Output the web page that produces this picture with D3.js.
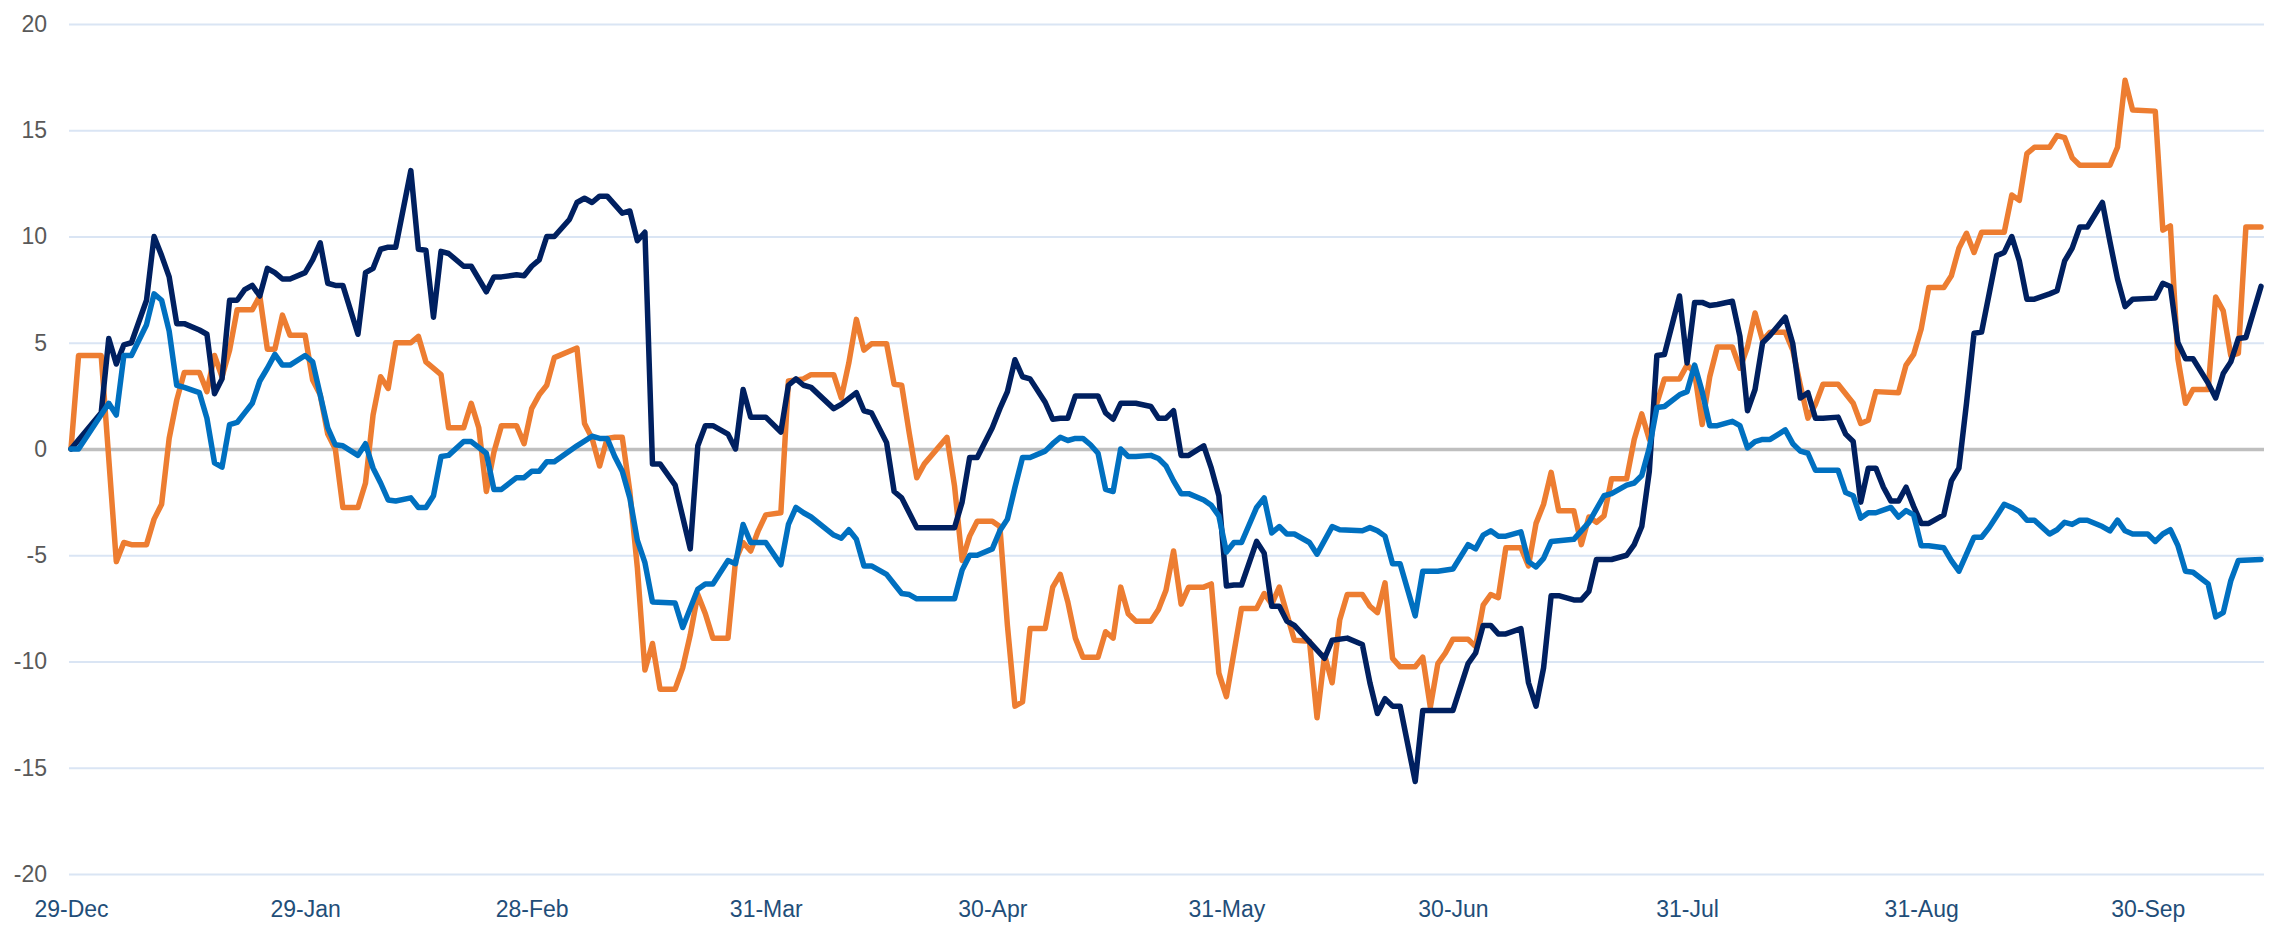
<!DOCTYPE html>
<html>
<head>
<meta charset="utf-8">
<script src="https://cdn.jsdelivr.net/npm/d3@7"></script>
<style>
  body { margin: 0; background: #fff; }
  svg { display: block; }
</style>
</head>
<body>
<script>
// start date of the series (x axis is in calendar days from here)
var startDate = new Date(2022, 11, 29);

// [day since 29-Dec, value]
var navy = [[0,0],[4,1.7],[5,5.2],[6,4.0],[7,4.9],[8,5.0],[10,7.0],[11,10.0],[12,9.1],[13,8.1],[14,5.9],[15,5.9],[17,5.6],[18,5.4],[19,2.6],[20,3.3],[21,7.0],[22,7.0],[23,7.5],[24,7.7],[25,7.2],[26,8.5],[27,8.3],[28,8.0],[29,8.0],[31,8.3],[32,8.9],[33,9.7],[34,7.8],[35,7.7],[36,7.7],[38,5.4],[39,8.3],[40,8.5],[41,9.4],[42,9.5],[43,9.5],[45,13.1],[46,9.4],[47,9.35],[48,6.2],[49,9.3],[50,9.2],[52,8.6],[53,8.6],[55,7.4],[56,8.1],[57,8.1],[59,8.2],[60,8.15],[61,8.6],[62,8.9],[63,10.0],[64,10.0],[66,10.8],[67,11.6],[68,11.8],[69,11.6],[70,11.9],[71,11.9],[73,11.1],[74,11.2],[75,9.8],[76,10.2],[77,-0.7],[78,-0.7],[80,-1.7],[81,-3.2],[82,-4.7],[83,0.15],[84,1.1],[85,1.1],[87,0.7],[88,0.0],[89,2.8],[90,1.5],[92,1.5],[94,0.8],[95,3.0],[96,3.3],[97,3.0],[98,2.9],[101,1.9],[102,2.1],[104,2.65],[105,1.8],[106,1.7],[108,0.3],[109,-2.0],[110,-2.3],[112,-3.7],[113,-3.7],[117,-3.7],[118,-2.5],[119,-0.4],[120,-0.4],[122,1.0],[123,1.9],[124,2.7],[125,4.2],[126,3.4],[127,3.3],[129,2.2],[130,1.4],[131,1.45],[132,1.45],[133,2.5],[134,2.5],[136,2.5],[137,1.7],[138,1.4],[139,2.15],[141,2.15],[143,2.0],[144,1.45],[145,1.45],[146,1.8],[147,-0.3],[148,-0.3],[150,0.15],[151,-0.9],[152,-2.2],[153,-6.45],[154,-6.4],[155,-6.4],[157,-4.35],[158,-4.9],[159,-7.4],[160,-7.4],[161,-8.1],[162,-8.3],[166,-9.85],[167,-9.0],[169,-8.9],[171,-9.2],[172,-11.0],[173,-12.45],[174,-11.75],[175,-12.1],[176,-12.1],[178,-15.65],[179,-12.3],[181,-12.3],[183,-12.3],[185,-10.1],[186,-9.6],[187,-8.3],[188,-8.3],[189,-8.7],[190,-8.7],[192,-8.45],[193,-11.0],[194,-12.1],[195,-10.3],[196,-6.9],[197,-6.9],[199,-7.1],[200,-7.1],[201,-6.7],[202,-5.2],[204,-5.2],[206,-5.0],[207,-4.5],[208,-3.65],[209,-1.05],[210,4.4],[211,4.45],[213,7.2],[214,4.05],[215,6.9],[216,6.9],[217,6.75],[218,6.8],[220,6.95],[221,5.3],[222,1.8],[223,2.8],[224,5.0],[225,5.35],[227,6.2],[228,4.95],[229,2.4],[230,2.65],[231,1.45],[232,1.45],[234,1.5],[235,0.7],[236,0.35],[237,-2.5],[238,-0.9],[239,-0.9],[240,-1.8],[241,-2.45],[242,-2.45],[243,-1.8],[244,-2.7],[245,-3.5],[246,-3.5],[248,-3.1],[249,-1.5],[250,-0.9],[251,2.15],[252,5.45],[253,5.5],[254,7.3],[255,9.1],[256,9.25],[257,10.0],[258,8.85],[259,7.05],[260,7.05],[262,7.3],[263,7.45],[264,8.85],[265,9.45],[266,10.45],[267,10.45],[269,11.6],[270,9.75],[271,8.0],[272,6.7],[273,7.05],[276,7.1],[277,7.8],[278,7.65],[279,5.0],[280,4.25],[281,4.25],[283,3.1],[284,2.4],[285,3.55],[286,4.1],[287,5.2],[288,5.25],[290,7.65]];

var orange = [[0,0],[1,4.4],[4,4.4],[6,-5.3],[7,-4.4],[8,-4.5],[10,-4.5],[11,-3.3],[12,-2.6],[13,0.5],[14,2.3],[15,3.6],[17,3.6],[18,2.7],[19,4.4],[20,3.4],[21,4.65],[22,6.55],[24,6.55],[25,7.2],[26,4.7],[27,4.7],[28,6.3],[29,5.35],[31,5.35],[32,3.25],[33,2.55],[34,0.7],[35,0.0],[36,-2.75],[38,-2.75],[39,-1.6],[40,1.6],[41,3.4],[42,2.85],[43,5.0],[45,5.0],[46,5.3],[47,4.1],[49,3.5],[50,1.0],[52,1.0],[53,2.15],[54,1.0],[55,-2.0],[56,-0.15],[57,1.1],[59,1.1],[60,0.25],[61,1.9],[62,2.55],[63,3.0],[64,4.3],[67,4.75],[68,1.2],[69,0.5],[70,-0.8],[71,0.5],[72,0.55],[73,0.55],[74,-2.0],[75,-5.6],[76,-10.4],[77,-9.15],[78,-11.3],[80,-11.3],[81,-10.3],[82,-8.75],[83,-6.85],[84,-7.75],[85,-8.9],[87,-8.9],[88,-5.25],[89,-4.4],[90,-4.8],[91,-3.85],[92,-3.1],[94,-3.0],[95,3.2],[97,3.3],[98,3.5],[101,3.5],[102,2.4],[103,4.05],[104,6.1],[105,4.65],[106,4.95],[108,4.95],[109,3.05],[110,3.0],[111,0.75],[112,-1.35],[113,-0.7],[116,0.55],[117,-1.75],[118,-5.25],[119,-4.1],[120,-3.4],[122,-3.4],[123,-3.65],[124,-8.3],[125,-12.1],[126,-11.9],[127,-8.45],[129,-8.45],[130,-6.5],[131,-5.9],[132,-7.2],[133,-8.9],[134,-9.8],[136,-9.8],[137,-8.6],[138,-8.9],[139,-6.5],[140,-7.75],[141,-8.1],[143,-8.1],[144,-7.55],[145,-6.65],[146,-4.8],[147,-7.3],[148,-6.5],[150,-6.5],[151,-6.35],[152,-10.55],[153,-11.65],[155,-7.5],[157,-7.5],[158,-6.8],[159,-7.3],[160,-6.5],[162,-9.0],[164,-9.05],[165,-12.65],[166,-9.7],[167,-11.0],[168,-8.05],[169,-6.85],[171,-6.85],[172,-7.4],[173,-7.7],[174,-6.3],[175,-9.85],[176,-10.25],[178,-10.25],[179,-9.8],[180,-12.15],[181,-10.1],[182,-9.6],[183,-8.95],[185,-8.95],[186,-9.3],[187,-7.35],[188,-6.85],[189,-7.0],[190,-4.65],[192,-4.65],[193,-5.5],[194,-3.5],[195,-2.6],[196,-1.1],[197,-2.9],[199,-2.9],[200,-4.5],[201,-3.2],[202,-3.45],[203,-3.15],[204,-1.4],[206,-1.4],[207,0.45],[208,1.65],[209,0.45],[210,2.15],[211,3.3],[213,3.3],[214,3.95],[215,3.6],[216,1.15],[217,3.4],[218,4.8],[220,4.8],[221,3.8],[222,4.8],[223,6.4],[224,5.1],[225,5.5],[227,5.5],[228,4.65],[229,3.0],[230,1.45],[231,2.1],[232,3.05],[234,3.05],[236,2.15],[237,1.2],[238,1.35],[239,2.7],[242,2.65],[243,3.95],[244,4.45],[245,5.65],[246,7.6],[248,7.6],[249,8.15],[250,9.45],[251,10.15],[252,9.25],[253,10.2],[256,10.2],[257,11.95],[258,11.7],[259,13.9],[260,14.2],[262,14.2],[263,14.75],[264,14.65],[265,13.7],[266,13.35],[270,13.35],[271,14.2],[272,17.35],[273,15.95],[276,15.9],[277,10.3],[278,10.5],[279,4.25],[280,2.15],[281,2.8],[283,2.8],[284,7.15],[285,6.5],[286,4.4],[287,4.5],[288,10.45],[290,10.45]];

var blue = [[0,0],[1,0],[5,2.15],[6,1.6],[7,4.4],[8,4.4],[10,5.85],[11,7.3],[12,7.0],[13,5.55],[14,3.0],[15,2.9],[17,2.65],[18,1.45],[19,-0.65],[20,-0.85],[21,1.15],[22,1.25],[23,1.7],[24,2.15],[25,3.2],[26,3.8],[27,4.45],[28,3.95],[29,3.95],[31,4.4],[32,4.1],[33,2.55],[34,1.0],[35,0.2],[36,0.15],[38,-0.3],[39,0.25],[40,-0.9],[41,-1.6],[42,-2.4],[43,-2.45],[45,-2.3],[46,-2.75],[47,-2.75],[48,-2.2],[49,-0.35],[50,-0.3],[52,0.35],[53,0.35],[55,-0.2],[56,-1.9],[57,-1.9],[59,-1.35],[60,-1.35],[61,-1.05],[62,-1.05],[63,-0.6],[64,-0.6],[67,0.15],[69,0.6],[70,0.5],[71,0.5],[72,-0.35],[73,-1.05],[74,-2.3],[75,-4.3],[76,-5.35],[77,-7.2],[80,-7.25],[81,-8.4],[83,-6.6],[84,-6.35],[85,-6.35],[87,-5.25],[88,-5.4],[89,-3.55],[90,-4.4],[92,-4.4],[94,-5.45],[95,-3.55],[96,-2.75],[97,-3.0],[98,-3.2],[101,-4.05],[102,-4.2],[103,-3.8],[104,-4.25],[105,-5.5],[106,-5.5],[108,-5.9],[109,-6.35],[110,-6.8],[111,-6.85],[112,-7.05],[117,-7.05],[118,-5.7],[119,-5.0],[120,-5.0],[122,-4.7],[123,-3.85],[124,-3.3],[125,-1.8],[126,-0.4],[127,-0.4],[129,-0.1],[130,0.25],[131,0.55],[132,0.4],[133,0.5],[134,0.5],[135,0.2],[136,-0.2],[137,-1.9],[138,-2.0],[139,0.0],[140,-0.35],[141,-0.35],[143,-0.3],[144,-0.45],[145,-0.8],[146,-1.5],[147,-2.1],[148,-2.1],[150,-2.4],[151,-2.65],[152,-3.15],[153,-4.85],[154,-4.4],[155,-4.4],[157,-2.75],[158,-2.3],[159,-3.95],[160,-3.65],[161,-4.0],[162,-4.0],[164,-4.4],[165,-4.95],[167,-3.65],[168,-3.8],[171,-3.85],[172,-3.7],[173,-3.85],[174,-4.1],[175,-5.4],[176,-5.4],[178,-7.85],[179,-5.75],[181,-5.75],[183,-5.65],[185,-4.5],[186,-4.7],[187,-4.05],[188,-3.85],[189,-4.1],[190,-4.1],[192,-3.9],[193,-5.3],[194,-5.55],[195,-5.15],[196,-4.35],[199,-4.25],[200,-3.85],[201,-3.45],[203,-2.2],[204,-2.1],[206,-1.7],[207,-1.6],[208,-1.25],[209,0.05],[210,1.95],[211,2.0],[213,2.55],[214,2.7],[215,3.95],[216,2.7],[217,1.1],[218,1.1],[220,1.3],[221,1.1],[222,0.05],[223,0.35],[224,0.45],[225,0.45],[227,0.9],[228,0.25],[229,-0.1],[230,-0.2],[231,-1.0],[232,-1.0],[234,-1.0],[235,-2.05],[236,-2.2],[237,-3.25],[238,-3.0],[239,-3.0],[241,-2.75],[242,-3.2],[243,-2.9],[244,-3.1],[245,-4.55],[246,-4.55],[248,-4.65],[249,-5.25],[250,-5.75],[251,-4.95],[252,-4.15],[253,-4.15],[254,-3.7],[255,-3.15],[256,-2.6],[257,-2.75],[258,-2.95],[259,-3.35],[260,-3.35],[262,-4.0],[263,-3.8],[264,-3.45],[265,-3.55],[266,-3.35],[267,-3.35],[269,-3.65],[270,-3.85],[271,-3.35],[272,-3.85],[273,-4.0],[275,-4.0],[276,-4.35],[277,-4.0],[278,-3.8],[279,-4.55],[280,-5.75],[281,-5.8],[283,-6.35],[284,-7.9],[285,-7.7],[286,-6.2],[287,-5.25],[290,-5.2]];

// axis labels
var tickDates = ["2022-12-29", "2023-01-29", "2023-02-28", "2023-03-31", "2023-04-30",
                 "2023-05-31", "2023-06-30", "2023-07-31", "2023-08-31", "2023-09-30"];
var yTicks = [-20, -15, -10, -5, 0, 5, 10, 15, 20];

var width = 2280, height = 930;
var gridLeft = 69, gridRight = 2264;

var svg = d3.select("body").append("svg")
    .attr("width", width)
    .attr("height", height)
    .style("font-family", "'Open Sans', sans-serif");

var parse = d3.timeParse("%Y-%m-%d");
var endDate = d3.timeDay.offset(startDate, 290);

var x = d3.scaleTime()
    .domain([startDate, endDate])
    .range([71, 2261]);
var y = d3.scaleLinear()
    .domain([-20, 20])
    .range([874, 24]);

// y axis doubles as the gridlines
var yAxis = d3.axisLeft(y)
    .tickValues(yTicks)
    .tickSize(-(gridRight - gridLeft))
    .tickPadding(22)
    .tickFormat(function(d) { return String(d); }); // plain hyphen for negatives

var gy = svg.append("g")
    .attr("transform", "translate(" + gridLeft + ",0)")
    .call(yAxis);
gy.select(".domain").remove();
gy.selectAll("line")
    .attr("stroke", function(d) { return d === 0 ? "#bfbfbf" : "#dae5f4"; })
    .attr("stroke-width", function(d) { return d === 0 ? 3.5 : 2; });
gy.selectAll("text")
    .attr("fill", "#595959")
    .style("font-size", "23px");

var xAxis = d3.axisBottom(x)
    .tickValues(tickDates.map(parse))
    .tickSize(0)
    .tickPadding(27)
    .tickFormat(d3.timeFormat("%d-%b"));

var gx = svg.append("g")
    .attr("transform", "translate(0," + y(-20) + ")")
    .call(xAxis);
gx.select(".domain").remove();
gx.selectAll("text")
    .attr("fill", "#1f4e79")
    .style("font-size", "23px");

var line = d3.line()
    .x(function(d) { return x(d3.timeDay.offset(startDate, d[0])); })
    .y(function(d) { return y(d[1]); });

var series = [
    { name: "orange", data: orange, color: "#ed7d31" },
    { name: "navy", data: navy, color: "#002060" },
    { name: "blue", data: blue, color: "#0070c0" }
];

svg.selectAll(".series")
    .data(series)
    .enter().append("path")
    .attr("class", "series")
    .attr("d", function(d) { return line(d.data); })
    .attr("fill", "none")
    .attr("stroke", function(d) { return d.color; })
    .attr("stroke-width", 5.5)
    .attr("stroke-linejoin", "round")
    .attr("stroke-linecap", "round");
</script>
</body>
</html>
